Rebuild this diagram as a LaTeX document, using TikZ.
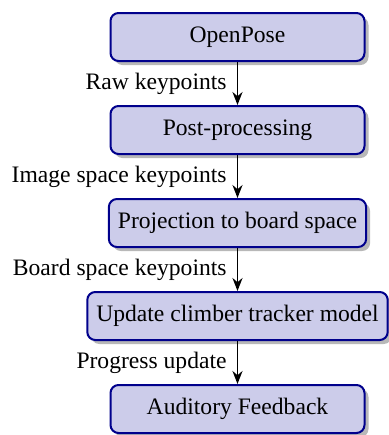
\documentclass[tikz,border=0pt]{standalone}
\usepackage{fontspec}
\setmainfont{Liberation Serif}
\usetikzlibrary{arrows.meta, positioning, shadows}
\definecolor{boxfill}{RGB}{204,204,234}
\definecolor{boxline}{RGB}{0,0,140}

\begin{document}
\begin{tikzpicture}[
    font=\fontsize{11.8pt}{14pt}\selectfont,
    stage/.style={draw=boxline, fill=boxfill, line width=1pt, rounded corners=4pt,
        minimum width=127pt, minimum height=24pt, inner xsep=4.5pt,
        drop shadow={shadow xshift=2pt, shadow yshift=-2pt, fill=black!28, opacity=1}},
    flow/.style={-{Stealth[length=6.5pt, width=5pt]}, line width=0.9pt},
    tag/.style={midway, left, inner xsep=5pt}
]
    % 画布大小
    \useasboundingbox (0,0) rectangle (194.5pt,-217.5pt);

    % 流程框
    \node[stage] (openpose) at (118.75pt,-18.5pt) {OpenPose};
    \node[stage, below=21.5pt of openpose] (post) {Post-processing};
    \node[stage, below=21.5pt of post] (project) {Projection to board space};
    \node[stage, below=21.5pt of project] (tracker) {Update climber tracker model};
    \node[stage, below=21.5pt of tracker] (audio) {Auditory Feedback};

    % 箭头与标注
    \draw[flow] (openpose) -- (post) node[tag] {Raw keypoints};
    \draw[flow] (post) -- (project) node[tag] {Image space keypoints};
    \draw[flow] (project) -- (tracker) node[tag] {Board space keypoints};
    \draw[flow] (tracker) -- (audio) node[tag] {Progress update};
\end{tikzpicture}
\end{document}
